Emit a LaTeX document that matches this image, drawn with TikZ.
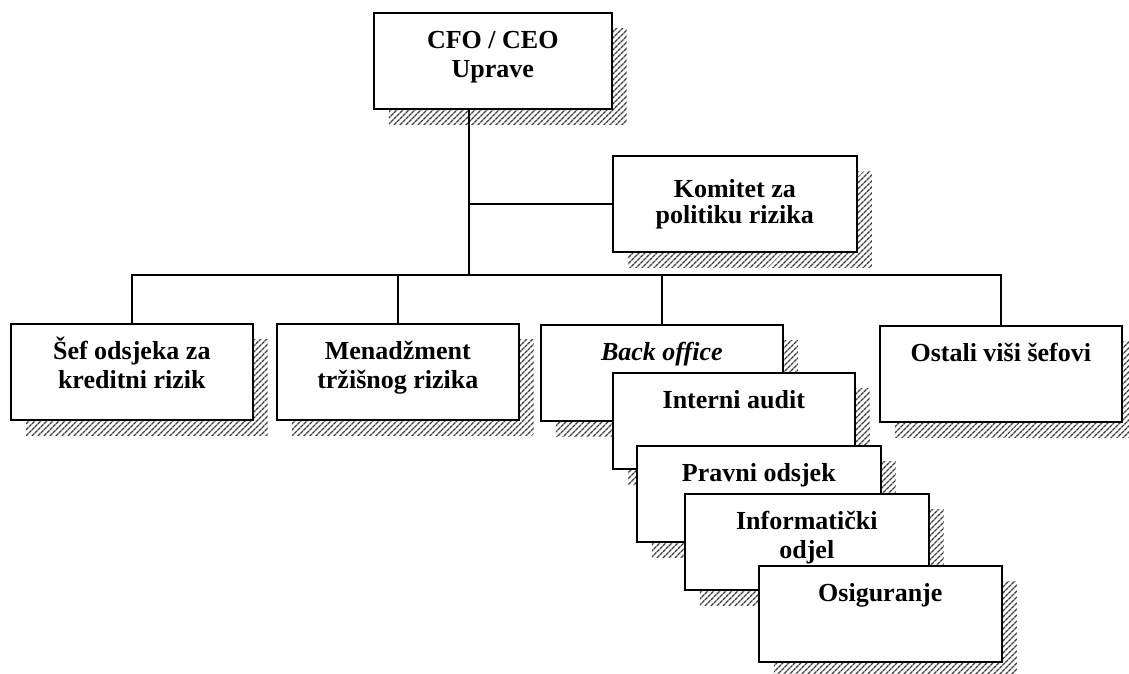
\documentclass[tikz,border=0pt]{standalone}
\usepackage{fontspec}
\setmainfont{Liberation Serif}
\usetikzlibrary{shadows,patterns.meta}

% text of a box, first baseline a fixed distance below the top
\newcommand{\boxtext}[2][36pt]{\parbox[c][96pt][t]{232pt}{\centering\rule{0pt}{#1}#2}}

\begin{document}
\begin{tikzpicture}[
    x=1pt, y=-1pt,
    font=\fontsize{26}{29}\selectfont\bfseries,
    box/.style={draw, line width=1.6pt, fill=white, anchor=north west, inner sep=0pt,
        minimum width=242pt, minimum height=96pt,
        general shadow={shadow xshift=15pt, shadow yshift=-16pt,
            pattern={Lines[angle=45, distance=4pt, line width=1.4pt]}, pattern color=black!75}},
    link/.style={line width=1.4pt},
]
    \useasboundingbox[fill=white] (0,0) rectangle (1129,673);

    % Top: management and the committee
    \node[box, minimum width=238pt] (cfo) at (373,12) {\boxtext{CFO / CEO\\Uprave}};
    \node[box, minimum width=244pt] (komitet) at (612,155) {\boxtext[42pt]{\fontsize{26}{26}\selectfont Komitet za\\politiku rizika}};

    % Second row
    \node[box] (sef) at (10,323) {\boxtext{Šef odsjeka za\\kreditni rizik}};
    \node[box] (menad) at (276,323) {\boxtext{Menadžment\\tržišnog rizika}};
    \node[box] (ostali) at (879,325) {\boxtext{Ostali viši šefovi}};

    % Back office and the stack below it
    \node[box] (back) at (540,324) {\boxtext{\textit{Back office}}};
    \node[box] (interni) at (612,372) {\boxtext{Interni audit}};
    \node[box, minimum width=244pt] (pravni) at (636,445) {\boxtext{Pravni odsjek}};
    \node[box, minimum width=244pt] (info) at (684,493) {\boxtext{Informatički\\odjel}};
    \node[box, minimum width=243pt] (osig) at (758,565) {\boxtext{Osiguranje}};

    % Connectors
    \coordinate (bus) at (469,275);
    \draw[link] (cfo.south -| bus) -- (bus);
    \draw[link] (komitet.west) -- (komitet.west -| bus);
    \draw[link] (sef.north) |- (ostali.north |- bus) -- (ostali.north);
    \draw[link] (menad.north) -- (menad.north |- bus);
    \draw[link] (back.north) -- (back.north |- bus);
\end{tikzpicture}
\end{document}
